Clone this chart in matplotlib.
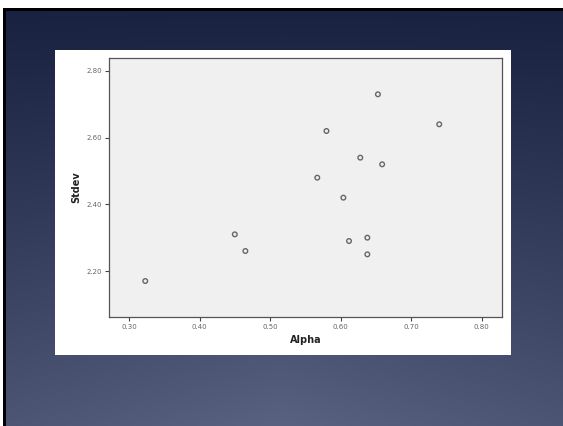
import numpy as np
import matplotlib
matplotlib.use("Agg")
import matplotlib.pyplot as plt
from matplotlib.patches import Rectangle

# values
alpha = [0.323, 0.450, 0.465, 0.567, 0.580, 0.604, 0.612, 0.628, 0.638, 0.638, 0.653, 0.659, 0.740]
stdev = [2.17, 2.31, 2.26, 2.48, 2.62, 2.42, 2.29, 2.54, 2.30, 2.25, 2.73, 2.52, 2.64]
xticks = [0.30, 0.40, 0.50, 0.60, 0.70, 0.80]
yticks = [2.20, 2.40, 2.60, 2.80]

W, H = 563, 426
fig = plt.figure(figsize=(W / 100, H / 100), dpi=100)

# slide background: dark navy fading to slate toward the bottom centre
bg = fig.add_axes([0, 0, 1, 1])
bg.set_axis_off()
yy, xx = np.mgrid[0:1:200j, 0:1:260j]
top = np.array([0x19, 0x21, 0x40]) / 255
bot = np.array([0x5a, 0x62, 0x82]) / 255
k = (yy ** 1.1) * (0.8 + 0.2 * (1 - np.abs(xx - 0.5) * 2))
img = top + (bot - top) * k[..., None]
bg.imshow(img, extent=[0, 1, 0, 1], aspect="auto", origin="upper")
bg.set_xlim(0, 1)
bg.set_ylim(0, 1)
# white margin and black frame at the top and left
bg.add_patch(Rectangle((0, 1 - 8 / H), 1, 8 / H, color="white", lw=0))
bg.add_patch(Rectangle((0, 0), 3 / W, 1, color="white", lw=0))
bg.add_patch(Rectangle((3 / W, 1 - 11 / H), 1, 3 / H, color="black", lw=0))
bg.add_patch(Rectangle((3 / W, 0), 3 / W, 1 - 8 / H, color="black", lw=0))
# white picture panel
bg.add_patch(Rectangle((55 / W, 1 - 355 / H), 456 / W, 305 / H, color="white", lw=0))

ax = fig.add_axes([109.3 / W, 1 - 316.7 / H, 392.7 / W, 258.4 / H])
ax.set_facecolor("#f0f0f0")
ax.scatter(alpha, stdev, s=11, facecolors="none", edgecolors="#666666", linewidths=1.0)
ax.set_xlim(0.272, 0.829)
ax.set_ylim(2.063, 2.838)
ax.set_xticks(xticks)
ax.set_yticks(yticks)
ax.set_xticklabels([f"{v:.2f}" for v in xticks])
ax.set_yticklabels([f"{v:.2f}" for v in yticks])
ax.tick_params(labelsize=5, labelcolor="#666666", color="#444444", length=3, width=0.8, pad=2)
for s in ax.spines.values():
    s.set_color("#555555")
    s.set_linewidth(0.9)
ax.set_xlabel("Alpha", fontsize=7, fontweight="bold", color="#222222", labelpad=4)
ax.set_ylabel("Stdev", fontsize=7, fontweight="bold", color="#222222", labelpad=4)

fig.savefig("out.png", dpi=100)
